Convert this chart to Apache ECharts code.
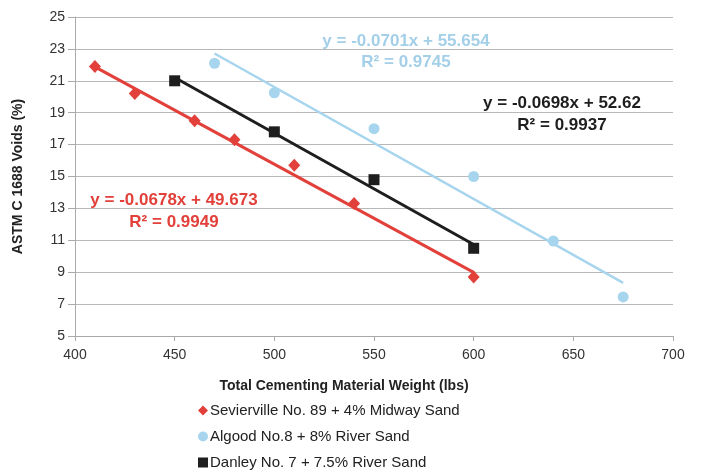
<!DOCTYPE html>
<html>
<head>
<meta charset="utf-8">
<script src="https://cdn.jsdelivr.net/npm/echarts@6/dist/echarts.min.js"></script>
<style>
  html, body { margin: 0; padding: 0; background: #fff; }
  #chart { width: 704px; height: 472px; }
</style>
</head>
<body>
<div id="chart"></div>
<script>
// points: [weight, voids]
var sevierville = [[410, 21.9], [430, 20.2], [460, 18.5], [480, 17.3], [510, 15.7], [540, 13.3], [600, 8.7]];
var algood = [[470, 22.1], [500, 20.25], [550, 18.0], [600, 15.0], [640, 10.95], [675, 7.45]];
var danley = [[450, 21.0], [500, 17.8], [550, 14.8], [600, 10.5]];

// trend line ends, from the printed equations
var seviervilleFit = [[410, 21.87], [600, 8.99]];
var algoodFit = [[470, 22.71], [675, 8.33]];
var danleyFit = [[450, 21.21], [600, 10.74]];

var seriesNames = ['Sevierville No. 89 + 4% Midway Sand', 'Algood No.8 + 8% River Sand', 'Danley No. 7 + 7.5% River Sand'];
var equations = ['y = -0.0678x + 49.673\nR² = 0.9949', 'y = -0.0701x + 55.654\nR² = 0.9745', 'y = -0.0698x + 52.62\nR² = 0.9937'];

var RED = '#e2403a', BLUE = '#a7d5ee', BLACK = '#1e1e1e';
var FONT = '"Liberation Sans", Arial, sans-serif';

var chart = echarts.init(document.getElementById('chart'));

chart.setOption({
  animation: false,
  backgroundColor: '#fff',
  textStyle: { fontFamily: FONT },
  grid: { left: 75, right: 31, top: 17, bottom: 136 },
  xAxis: {
    type: 'value', min: 400, max: 700, interval: 50,
    name: 'Total Cementing Material Weight (lbs)',
    nameLocation: 'middle', nameGap: 43,
    nameTextStyle: { fontSize: 14, fontWeight: 'bold', color: '#222', padding: [0, 60, 0, 0] },
    axisLine: { lineStyle: { color: '#aaa' } },
    axisTick: { show: true, length: 5, lineStyle: { color: '#aaa' } },
    axisLabel: { fontSize: 14, color: '#333', margin: 12 },
    splitLine: { show: false }
  },
  yAxis: {
    type: 'value', min: 5, max: 25, interval: 2,
    name: 'ASTM C 1688 Voids (%)',
    nameLocation: 'middle', nameGap: 50, nameRotate: 90,
    nameTextStyle: { fontSize: 14, fontWeight: 'bold', color: '#222' },
    axisLine: { show: true, lineStyle: { color: '#aaa' } },
    axisTick: { show: true, length: 7, lineStyle: { color: '#aaa' } },
    axisLabel: { fontSize: 14, color: '#333', margin: 10 },
    splitLine: { lineStyle: { color: '#b8b8b8' } }
  },
  legend: {
    orient: 'vertical', left: 198, top: 403, height: 90, padding: 0,
    itemWidth: 10, itemHeight: 10, itemGap: 11,
    data: seriesNames,
    textStyle: { fontSize: 15, color: '#222', padding: [0, 0, 0, -3] }
  },
  series: [
    { name: seriesNames[0] + ' fit', type: 'line', data: seviervilleFit, showSymbol: false, lineStyle: { color: RED, width: 3 }, z: 3 },
    { name: seriesNames[1] + ' fit', type: 'line', data: algoodFit, showSymbol: false, lineStyle: { color: BLUE, width: 2.5 }, z: 3 },
    { name: seriesNames[2] + ' fit', type: 'line', data: danleyFit, showSymbol: false, lineStyle: { color: BLACK, width: 3 }, z: 3 },
    { name: seriesNames[0], type: 'scatter', data: sevierville, symbol: 'diamond', symbolSize: [12, 13], itemStyle: { color: RED, opacity: 1 }, z: 2 },
    { name: seriesNames[1], type: 'scatter', data: algood, symbol: 'circle', symbolSize: 11, itemStyle: { color: BLUE, opacity: 1 }, z: 2 },
    { name: seriesNames[2], type: 'scatter', data: danley, symbol: 'rect', symbolSize: 11, itemStyle: { color: BLACK, opacity: 1 }, z: 2 }
  ],
  graphic: [
    { type: 'text', x: 174, y: 211, z: 10, style: { text: equations[0], fill: RED, font: 'bold 17px ' + FONT, align: 'center', verticalAlign: 'middle', lineHeight: 22 } },
    { type: 'text', x: 406, y: 52, z: 10, style: { text: equations[1], fill: '#a3cfe8', font: 'bold 17px ' + FONT, align: 'center', verticalAlign: 'middle', lineHeight: 21 } },
    { type: 'text', x: 562, y: 114, z: 10, style: { text: equations[2], fill: BLACK, font: 'bold 17px ' + FONT, align: 'center', verticalAlign: 'middle', lineHeight: 22 } }
  ]
});
</script>
</body>
</html>
